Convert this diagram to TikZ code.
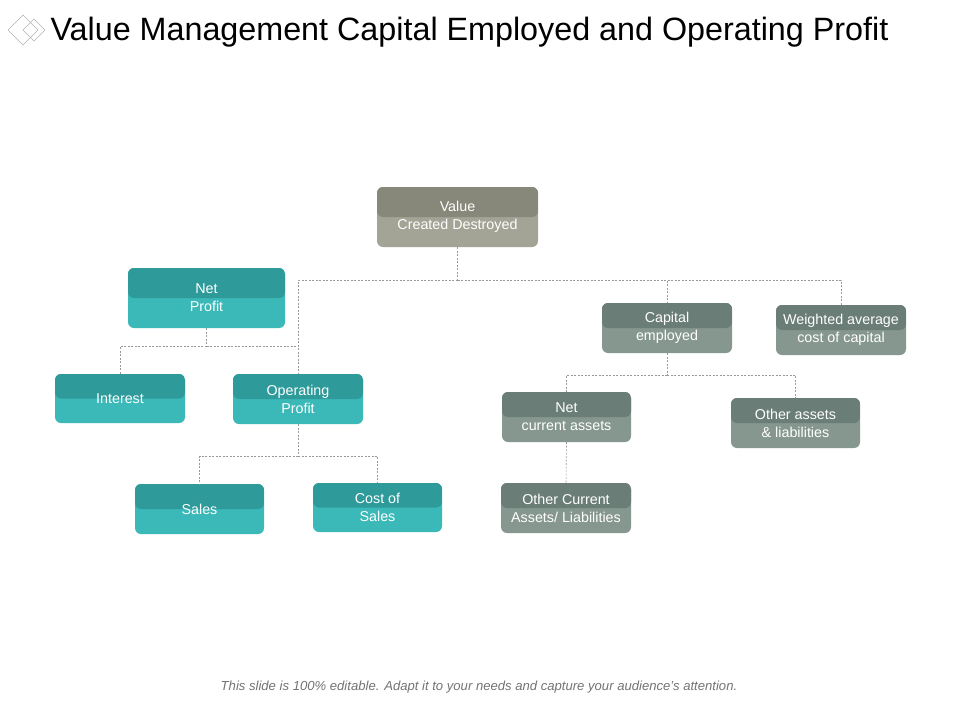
\documentclass[tikz,border=0pt]{standalone}
\usepackage{fontspec}
\setmainfont{Liberation Sans}
\begin{document}
\begin{tikzpicture}[x=1pt,y=-1pt,
  box/.style={rounded corners=6pt,minimum width=130pt,minimum height=50pt,inner sep=1pt,
    text=white,font=\fontsize{14.3}{18}\selectfont,align=center},
  tealbox/.style={box,fill=teal2,path picture={\fill[teal1](path picture bounding box.north west) rectangle (path picture bounding box.east);}},
  olivebox/.style={box,fill=olive2,path picture={\fill[olive1](path picture bounding box.north west) rectangle (path picture bounding box.east);}},
  greybox/.style={box,fill=grey2,path picture={\fill[grey1](path picture bounding box.north west) rectangle (path picture bounding box.east);}},
  link/.style={draw=gray!80,dashed,dash pattern=on 2pt off 1.5pt,line width=0.6pt}]
\definecolor{teal1}{HTML}{2E9A9A}\definecolor{teal2}{HTML}{3BB8B8}
\definecolor{olive1}{HTML}{87877A}\definecolor{olive2}{HTML}{A3A396}
\definecolor{grey1}{HTML}{6A7D76}\definecolor{grey2}{HTML}{86978F}
\useasboundingbox (0,0) rectangle (960,720);
% icon
\draw[gray!60,line width=0.7pt] (8,30)--(23,15)--(38,30)--(23,45)--cycle;
\draw[gray!60,line width=0.7pt] (23,30)--(34,19)--(45,30)--(34,41)--cycle;
\node[anchor=west,font=\fontsize{32.3}{38}\selectfont] (title) at (47,32) {Value Management Capital Employed and Operating Profit};
\node[font=\itshape\fontsize{13.1}{15}\selectfont,text=gray!90!black] (foot) at (479,687) {This slide is 100\% editable. Adapt it to your needs and capture your audience's attention.};
% nodes
\node[olivebox,minimum width=161pt,minimum height=60pt] (v) at (457.5,217) {Value\\Created Destroyed};
\node[tealbox,minimum width=157pt,minimum height=60pt] (np) at (206.5,298) {Net\\Profit};
\node[greybox] (ce) at (667,328) {Capital\\employed};
\node[greybox] (wa) at (841,330) {Weighted average\\cost of capital};
\node[tealbox,minimum height=49pt] (in) at (120,398.5) {Interest};
\node[tealbox] (op) at (298,399) {Operating\\Profit};
\node[greybox,minimum width=129pt] (nc) at (566.5,417) {Net\\current assets};
\node[greybox,minimum width=129pt] (oa) at (795.5,423) {Other assets\\\& liabilities};
\node[tealbox,minimum width=129pt] (sa) at (199.5,509) {Sales};
\node[tealbox,minimum width=129pt,minimum height=49pt] (cs) at (377.5,507.5) {Cost of\\Sales};
\node[greybox] (oc) at (566,508) {Other Current\\Assets/ Liabilities};
% connectors
\coordinate (j1) at (457.5,280);
\draw[link] (v.south) -- (j1);
\draw[link] (j1) -| (op.north);
\draw[link] (j1) -| (ce.north);
\draw[link] (j1) -| (wa.north);
\coordinate (j2) at (206.5,346);
\draw[link] (np.south) -- (j2);
\draw[link] (j2) -| (in.north);
\draw[link] (j2) -- (298,346);
\coordinate (j3) at (298,456);
\draw[link] (op.south) -- (j3);
\draw[link] (j3) -| (sa.north);
\draw[link] (j3) -| (cs.north);
\coordinate (j4) at (667,375);
\draw[link] (ce.south) -- (j4);
\draw[link] (j4) -| (nc.north);
\draw[link] (j4) -| (oa.north);
\draw[link] (nc.south) -- (oc.north);
\end{tikzpicture}
\end{document}
